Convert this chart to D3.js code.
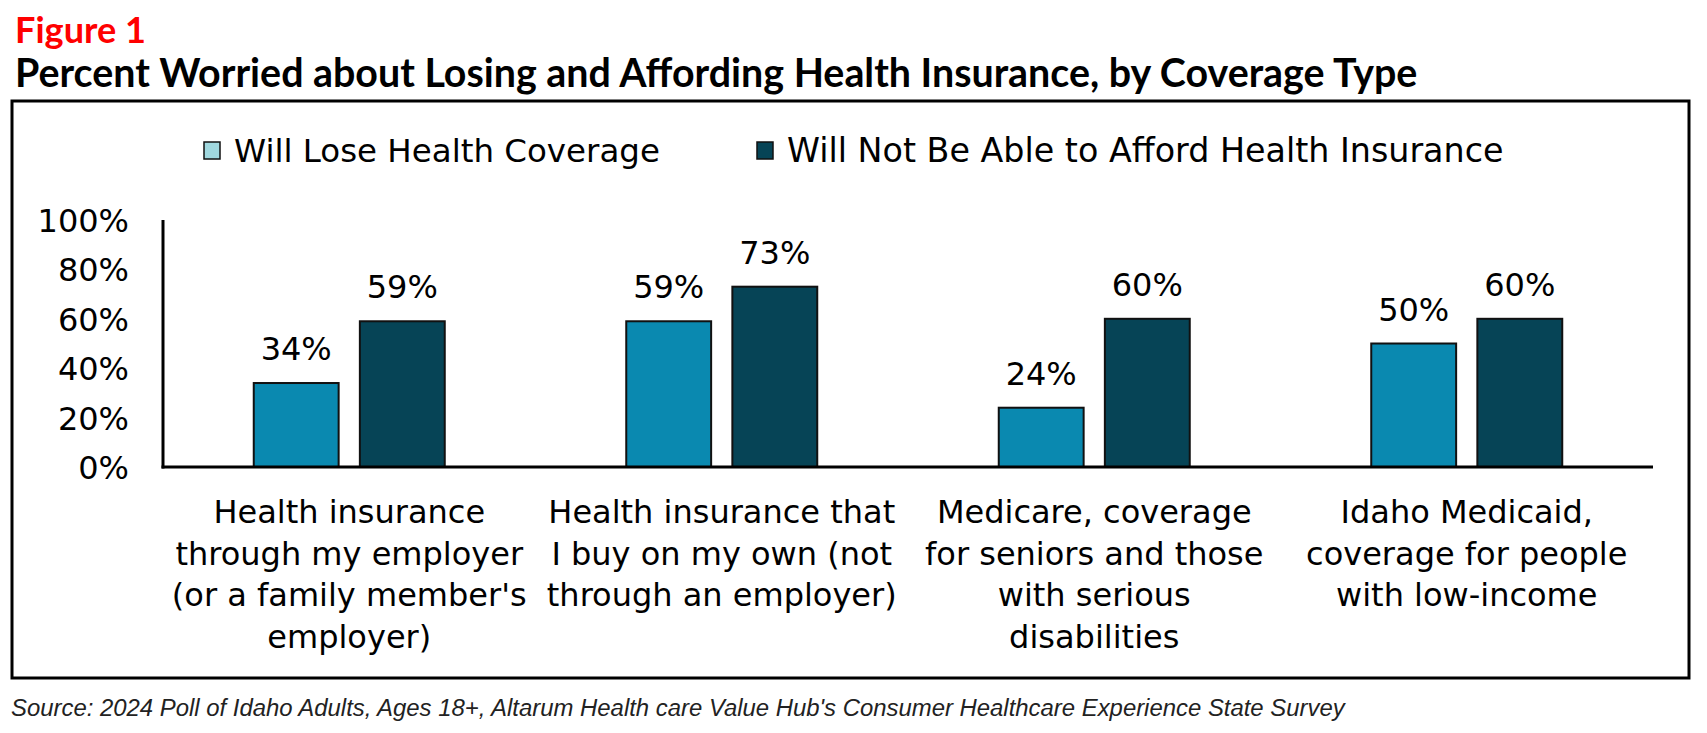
<!DOCTYPE html>
<html>
<head>
<meta charset="utf-8">
<script src="https://cdn.jsdelivr.net/npm/d3@7"></script>
<style>
  html, body { margin: 0; padding: 0; background: #fff; }
  svg { display: block; }
</style>
</head>
<body>
<svg id="chart" width="1707" height="733"></svg>
<script>
// ---- Data ----
const categories = [
  ["Health insurance", "through my employer", "(or a family member's", "employer)"],
  ["Health insurance that", "I buy on my own (not", "through an employer)"],
  ["Medicare, coverage", "for seniors and those", "with serious", "disabilities"],
  ["Idaho Medicaid,", "coverage for people", "with low-income"]
];
const seriesNames = ["Will Lose Health Coverage", "Will Not Be Able to Afford Health Insurance"];
const loseCoverage = [34, 59, 24, 50];
const cannotAfford = [59, 73, 60, 60];
const yTicks = [0, 20, 40, 60, 80, 100];
const figureLabel = "Figure 1";
const titleText = "Percent Worried about Losing and Affording Health Insurance, by Coverage Type";
const sourceText = "Source: 2024 Poll of Idaho Adults, Ages 18+, Altarum Health care Value Hub's Consumer Healthcare Experience State Survey";

// ---- Styles ----
const barColors = ["#0a89b0", "#064456"];
const legendColors = ["#a0d8df", "#064456"];
const chartFont = "'DejaVu Sans', sans-serif";

const svg = d3.select("#chart");

function fitWidth(sel, target) {
  const node = sel.node();
  const w = node.getComputedTextLength();
  const fs = parseFloat(sel.attr("font-size"));
  sel.attr("font-size", (fs * target / w).toFixed(2));
}

// Header
const fig = svg.append("text").attr("x", 15).attr("y", 43)
  .attr("font-family", "Lato, sans-serif").attr("font-weight", 700)
  .attr("font-size", 36).attr("fill", "#ff0000").text(figureLabel);
fitWidth(fig, 131);
const ttl = svg.append("text").attr("x", 15).attr("y", 87)
  .attr("font-family", "Lato, sans-serif").attr("font-weight", 700)
  .attr("font-size", 36).attr("fill", "#000").text(titleText);
fitWidth(ttl, 1403);

// Frame
svg.append("rect").attr("x", 12).attr("y", 101).attr("width", 1677).attr("height", 577)
  .attr("fill", "none").attr("stroke", "#000").attr("stroke-width", 3);

// Legend
const legendX = [204, 757];
seriesNames.forEach((name, i) => {
  svg.append("rect").attr("x", legendX[i]).attr("y", 142).attr("width", 16).attr("height", 17)
    .attr("fill", legendColors[i]).attr("stroke", "#111").attr("stroke-width", 1.5);
  const t = svg.append("text").attr("x", legendX[i] + 30).attr("y", 162)
    .attr("font-family", chartFont).attr("font-size", 28).attr("fill", "#000").text(name);
  fitWidth(t, i === 0 ? 426 : 717);
});

// Scales
const y = d3.scaleLinear().domain([0, 100]).range([467, 220]);
const x0 = d3.scaleBand().domain(d3.range(categories.length)).range([163, 1653]).padding(0);
const groupW = 191;
const x1 = d3.scaleBand().domain([0, 1]).range([0, groupW]).paddingInner(0.2).paddingOuter(0);

// Y tick labels
const yAxis = d3.axisLeft(y).tickValues(yTicks).tickFormat(d => d + "%").tickSize(0).tickPadding(0);
const ya = svg.append("g").attr("transform", "translate(129,0)").call(yAxis);
ya.select(".domain").remove();
ya.selectAll("text").attr("font-family", chartFont).attr("font-size", 32).attr("fill", "#000")
  .attr("dy", "0.36em");

// Bars
const rows = categories.map((c, i) => ({ i, vals: [loseCoverage[i], cannotAfford[i]] }));
const groups = svg.append("g").selectAll("g").data(rows).join("g")
  .attr("transform", d => `translate(${x0(d.i) + x0.bandwidth() / 2 - groupW / 2},0)`);
groups.selectAll("rect").data(d => d.vals.map((v, s) => ({ v, s }))).join("rect")
  .attr("x", d => x1(d.s)).attr("width", x1.bandwidth())
  .attr("y", d => y(d.v)).attr("height", d => y(0) - y(d.v))
  .attr("fill", d => barColors[d.s]).attr("stroke", "#111").attr("stroke-width", 2);
groups.selectAll("text.val").data(d => d.vals.map((v, s) => ({ v, s }))).join("text")
  .attr("class", "val")
  .attr("x", d => x1(d.s) + x1.bandwidth() / 2).attr("y", d => y(d.v) - 23)
  .attr("text-anchor", "middle").attr("font-family", chartFont).attr("font-size", 32)
  .attr("fill", "#000").text(d => d.v + "%");

// Axis lines
svg.append("line").attr("x1", 163).attr("x2", 163).attr("y1", 220).attr("y2", 468.5)
  .attr("stroke", "#000").attr("stroke-width", 3);
svg.append("line").attr("x1", 161.5).attr("x2", 1653).attr("y1", 467).attr("y2", 467)
  .attr("stroke", "#000").attr("stroke-width", 3);

// Category labels
const cat = svg.append("g").selectAll("text").data(categories).join("text")
  .attr("x", (d, i) => x0(i) + x0.bandwidth() / 2).attr("y", 523)
  .attr("text-anchor", "middle").attr("font-family", chartFont).attr("font-size", 32).attr("fill", "#000");
cat.selectAll("tspan").data(d => d).join("tspan")
  .attr("x", function () { return this.parentNode.getAttribute("x"); })
  .attr("dy", (d, j) => j === 0 ? 0 : 41.5).text(d => d);

// Source
const src = svg.append("text").attr("x", 11).attr("y", 716)
  .attr("font-family", "'Liberation Sans Narrow', 'Liberation Sans', sans-serif")
  .attr("font-style", "italic").attr("font-size", 21).attr("fill", "#222").text(sourceText);
fitWidth(src, 1334);
</script>
</body>
</html>
